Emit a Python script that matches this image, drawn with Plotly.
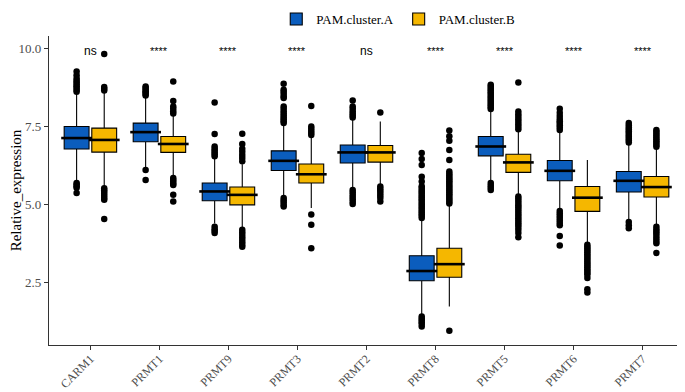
import plotly.graph_objects as go

genes = ["CARM1", "PRMT1", "PRMT9", "PRMT3", "PRMT2", "PRMT8", "PRMT5", "PRMT6", "PRMT7"]
signif = ["ns", "****", "****", "****", "ns", "****", "****", "****", "****"]

# PAM.cluster.A box statistics
a_q1 = [6.79, 7.02, 5.13, 6.10, 6.34, 2.57, 6.57, 5.77, 5.41]
a_med = [7.14, 7.33, 5.43, 6.41, 6.68, 2.88, 6.87, 6.09, 5.77]
a_q3 = [7.51, 7.62, 5.70, 6.73, 6.92, 3.37, 7.19, 6.42, 6.07]
a_lo = [5.80, 6.20, 4.40, 5.30, 5.55, 1.50, 5.80, 4.90, 4.52]
a_hi = [8.58, 8.45, 6.50, 7.58, 7.75, 4.52, 8.02, 7.33, 6.95]

# PAM.cluster.B box statistics
b_q1 = [6.69, 6.68, 5.00, 5.70, 6.37, 2.68, 6.04, 4.79, 5.25]
b_med = [7.08, 6.95, 5.32, 5.98, 6.68, 3.10, 6.36, 5.23, 5.57]
b_q3 = [7.46, 7.19, 5.57, 6.31, 6.90, 3.61, 6.62, 5.59, 5.91]
b_lo = [5.60, 5.96, 4.27, 4.90, 5.65, 1.74, 5.35, 3.78, 4.36]
b_hi = [8.60, 7.88, 6.30, 7.20, 7.67, 4.98, 7.36, 6.44, 6.80]

# outliers per gene
a_out = [
    [9.27, 9.15, 9.05, 8.98, 8.92, 8.86, 8.80, 8.74, 8.68, 8.62, 5.70, 5.65, 5.60, 5.55, 5.38],
    [8.79, 8.74, 8.69, 8.64, 8.60, 8.55, 8.50, 6.12, 5.80],
    [8.28, 7.27, 6.87, 6.80, 6.74, 6.68, 6.62, 6.56, 4.30, 4.22, 4.16, 4.10],
    [8.88, 8.69, 8.62, 8.55, 8.47, 8.42, 8.15, 8.08, 8.00, 7.93, 7.86, 7.80, 7.74, 7.68, 7.62,
     5.22, 5.15, 5.08, 5.00, 4.95],
    [8.34, 8.15, 8.08, 8.00, 7.93, 7.86, 7.80, 5.48, 5.40, 5.32, 5.25, 5.18, 5.10, 5.03],
    [6.66, 6.47, 6.28, 5.90, 5.75, 5.60, 5.54, 5.48, 5.42, 5.36, 5.30, 5.24, 5.18, 5.12, 5.06,
     5.00, 4.94, 4.88, 4.82, 4.76, 4.70, 4.64, 4.58, 1.42, 1.36, 1.30, 1.24, 1.18, 1.10],
    [8.85, 8.79, 8.73, 8.67, 8.61, 8.55, 8.49, 8.43, 8.37, 8.31, 8.25, 8.19, 8.13, 8.07,
     5.70, 5.62, 5.55, 5.48],
    [8.08, 7.95, 7.85, 7.75, 7.68, 7.62, 7.55, 7.48, 7.40, 4.80, 4.72, 4.65, 4.58, 4.50, 4.42,
     4.35, 4.00, 3.70],
    [7.62, 7.55, 7.48, 7.42, 7.36, 7.30, 7.24, 7.18, 7.12, 7.06, 7.00, 4.45, 4.35, 4.25],
]
b_out = [
    [9.83, 8.78, 8.72, 8.66, 5.53, 5.47, 5.41, 5.35, 5.28, 5.22, 5.16, 4.55],
    [8.95, 8.33, 8.15, 8.08, 8.00, 7.93, 5.86, 5.80, 5.74, 5.68, 5.64, 5.32, 5.11],
    [7.28, 6.95, 6.80, 6.70, 6.60, 6.50, 6.40, 4.20, 4.12, 4.04, 3.96, 3.88, 3.80, 3.72, 3.66],
    [8.17, 7.51, 7.44, 7.37, 7.30, 7.24, 4.69, 4.36, 3.61],
    [7.96, 5.59, 5.52, 5.45, 5.38, 5.30, 5.22, 5.11],
    [7.38, 7.20, 7.05, 6.76, 6.44, 6.07, 6.00, 5.94, 5.88, 5.82, 5.76, 5.70, 5.64, 5.58, 5.52,
     5.46, 5.40, 5.34, 5.28, 5.22, 5.16, 5.10, 5.04, 0.97],
    [8.92, 7.99, 7.90, 7.82, 7.74, 7.66, 7.58, 7.50, 7.42, 5.27, 5.20, 5.13, 5.06, 4.99, 4.92,
     4.85, 4.78, 4.71, 4.64, 4.57, 4.50, 4.43, 4.36, 4.29, 4.20, 4.10, 3.96],
    [3.72, 3.66, 3.60, 3.54, 3.48, 3.42, 3.36, 3.30, 3.24, 3.18, 3.12, 3.06, 3.00, 2.94, 2.88,
     2.82, 2.76, 2.66, 2.30, 2.19],
    [7.40, 7.34, 7.28, 7.22, 7.16, 7.10, 7.04, 6.98, 6.92, 6.86, 4.30, 4.22, 4.15, 4.08, 4.00,
     3.92, 3.84, 3.77, 3.46],
]

COL_A = "#0B5DBD"
COL_B = "#F5B700"
SERIF = "Liberation Serif, Times New Roman, serif"
SANS = "Liberation Sans, Arial, sans-serif"
OFF = 0.2
BW = 0.36

fig = go.Figure()
groups = [
    ("PAM.cluster.A", COL_A, -OFF, a_q1, a_med, a_q3, a_lo, a_hi, a_out),
    ("PAM.cluster.B", COL_B, OFF, b_q1, b_med, b_q3, b_lo, b_hi, b_out),
]
for name, col, off, q1, med, q3, lo, hi, outs in groups:
    xs = [i + 1 + off for i in range(len(genes))]
    fig.add_trace(go.Box(
        name=name, x=xs, q1=q1, median=med, q3=q3, lowerfence=lo, upperfence=hi,
        width=BW, fillcolor=col, line=dict(color="black", width=1.1),
        whiskerwidth=0, boxpoints=False, showlegend=True,
    ))
    # thicker median lines
    fig.add_trace(go.Scatter(
        x=xs, y=med, mode="markers", showlegend=False, hoverinfo="skip",
        marker=dict(symbol="line-ew", size=22, line=dict(color="black", width=2.6)),
    ))
    ox, oy = [], []
    for i, vals in enumerate(outs):
        for v in vals:
            ox.append(i + 1 + off)
            oy.append(v)
    fig.add_trace(go.Scatter(
        x=ox, y=oy, mode="markers", showlegend=False, hoverinfo="skip",
        marker=dict(color="black", size=6.5, line=dict(width=0)),
    ))

for i, s in enumerate(signif):
    fig.add_annotation(
        x=i + 1, y=9.94, xref="x", yref="y", text=s, showarrow=False,
        font=dict(family=SANS, size=12 if s == "ns" else 11, color="black"),
        yanchor="middle",
    )

fig.update_layout(
    width=677, height=384,
    margin=dict(l=41, r=1, t=28, b=47, autoexpand=False),
    paper_bgcolor="white", plot_bgcolor="white",
    showlegend=True,
    legend=dict(
        orientation="h", x=0.55, xanchor="center", y=1.055, yanchor="middle",
        font=dict(family=SERIF, size=13, color="black"),
        itemwidth=30, tracegroupgap=0,
    ),
    xaxis=dict(
        range=[0.4, 9.6], tickmode="array", tickvals=list(range(1, len(genes) + 1)),
        ticktext=genes, tickangle=-45, showgrid=False, zeroline=False, automargin=False,
        showline=True, linecolor="#333333", linewidth=1.3,
        ticks="outside", ticklen=4, tickcolor="#333333", tickwidth=1.1,
        ticklabelstandoff=-3,
        tickfont=dict(family=SERIF, size=12, color="#4d4d4d"),
    ),
    yaxis=dict(
        range=[0.51, 10.41], tickmode="array", tickvals=[2.5, 5.0, 7.5, 10.0],
        ticktext=["2.5", "5.0", "7.5", "10.0"], showgrid=False, zeroline=False, automargin=False,
        showline=True, linecolor="#333333", linewidth=1.3,
        ticks="outside", ticklen=4, tickcolor="#333333", tickwidth=1.1,
        tickfont=dict(family=SERIF, size=13, color="#4d4d4d"),
        title=dict(text="Relative_expression", font=dict(family=SERIF, size=15, color="black"),
                   standoff=8),
    ),
)

fig.write_html("out.html")
